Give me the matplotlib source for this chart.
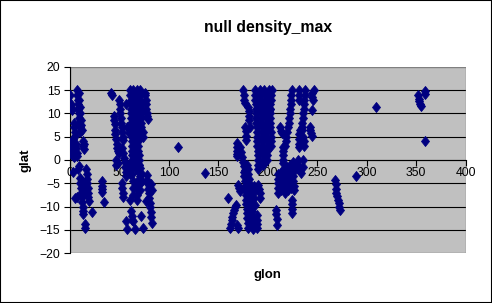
import matplotlib.pyplot as plt
from matplotlib.patches import Rectangle
from matplotlib.path import Path

# glon / glat, grouped by cluster
lon_a = [0, 1, 1.5, 2, 1, 0, 0.5, 1, 1.5, 2, 3, 4, 5, 4.5, 3,
         7, 7.3, 7.6, 8, 8.3, 8.6, 9, 9.3, 9.6, 10,
         9, 9.5, 10, 10.5, 11, 11.5, 12, 4, 4.3, 4.6, 5, 3.5,
         6, 6.5, 7, 7.5, 13, 13.5, 14, 14.5, 9.5, 8.4, 7,
         10, 10.5, 11, 11.5, 12, 12.3, 12.7, 13, 13.5, 12.5, 13, 13.5,
         16.5, 17, 17.3, 17.6, 18, 18.3, 18.5, 19, 15.5, 16,
         15, 15.5, 22, 5]
lat_a = [14, 12, 11.2, 10.8, 11.5, 3.5, 2.8, 2.2, 1.6, 1, 3, 2, 1, 0.7, -2.5,
         15, 14, 13, 12, 11, 10, 9, 8, 7, 6,
         14.5, 13, 11.5, 10, 8.5, 7.5, 6.5, 8, 7, 6, 5.2, 4.5,
         3.5, 2.5, 1.5, 0.8, 4, 3, 2.3, 3.5, -1.3, -2, -8,
         -3.8, -5, -6, -7, -8, -9, -10, -11, -11.7, -4.5, -6, -7.5,
         -2, -3, -4, -5, -6, -7, -8, -8.8, -5, -6.5,
         -13.8, -14.6, -11.2, -8.1]

lon_b = [32, 32.3, 32.6, 32.8, 34]
lat_b = [-4.6, -5.5, -6.3, -6.9, -9]

lon_c = [41.5, 42, 44, 44.5, 45,
         45, 45.5, 46, 47, 48, 49, 50, 48.5,
         50, 50.3, 50.6, 51, 51.5, 52, 52.5, 53, 53.5, 54,
         53, 54, 55, 55.5, 56, 56.5, 57, 52.5, 53, 53.5, 54,
         57, 58, 58.6, 59.5, 56.6, 58,
         61, 61, 61.2, 61.3, 61.5, 61.6, 61.8, 62, 62, 62.2, 62.4, 62.5, 62.7, 62.8, 63, 63, 63.2,
         64, 64, 64.2, 64.3, 64.5, 64.6, 64.8, 65, 65, 65.2, 65.3, 65.5, 65.6, 65.8, 66, 66, 66.2, 66.5,
         67.5, 67.5, 67.6, 67.8, 68, 68, 68.2, 68.3, 68.5, 68.6, 68.8, 69, 69, 69.2, 69.3, 69.5, 69.6,
         71, 71, 71.2, 71.3, 71.4, 71.5, 71.6, 71.7, 71.8, 72, 72,
         75.5, 76, 76.5, 77, 77.3, 77.6, 78, 78.5, 74, 73.5,
         71, 72, 72.5, 60.7, 62, 62.5, 63, 64, 65.7,
         67.4, 67.6, 68, 68, 70.5, 70.8, 71, 72, 73.5,
         77.5, 78, 78.5, 79, 79.5, 80, 80.5, 81, 81.5, 82, 82.5,
         76.5, 82.5, 81.5, 60, 60.3, 60.5, 62.6, 63, 63.3, 63.6, 64,
         69.4, 69.6, 69.8, 46, 46.5]
lat_c = [14.4, 14, 9.4, 8.5, 7.8,
         6.5, 5.5, 4.5, 3.5, 2.5, 2, 1.5, -0.6,
         13, 12, 11, 10, 9, 8, 7, 6, 5, 4.4,
         2.6, 1.5, 0.5, -0.5, -1.5, -2.5, -3.5, -5, -6, -7, -8,
         12, 7.2, 7.2, 5.8, -13.2, -14.8,
         15, 14, 13, 12, 11, 10, 9, 8, 7, 6, 5, 4, 3, 2, 1, 0, -1,
         15, 14, 13, 12, 11, 10, 9, 8, 7, 6, 5, 4, 3, 2, 1, 0, -1, -2,
         15, 14, 13, 12, 11, 10, 9, 8, 7, 6, 5, 4, 3, 2, 1, 0, -1,
         15, 14, 13, 12, 11, 10, 9, 8, 7, 6, 5.2,
         14.5, 14, 13, 12, 11, 10, 9.4, 8.8, 5, 6,
         -1.7, -2.8, -4.6, -8.5, -11, -12, -12.8, -13.2, -14.8,
         -5.3, -6.3, -7.5, -8.5, -3.5, -5, -6.5, -12, -14.6,
         -3.2, -4.2, -5.2, -6.2, -7.2, -8.2, -9.2, -10.2, -11.2, -12.2, -13.5,
         -8.9, -6.4, -5.2, -1, -2, -3, -1.5, -3, -4.5, -6, -7.5,
         -1, -2.5, -4, 0, -1]

lon_iso = [109.5, 136.5, 289, 309]
lat_iso = [2.9, -2.9, -3.5, 11.5]

lon_d = [160, 161.8, 162.5, 163.3, 164, 165, 166, 167, 168, 168.5, 169.5,
         170, 171, 172, 168.5, 168.5, 168.8, 169, 169.2,
         172, 173, 174, 175, 176, 177, 175, 175.5, 176, 176.5,
         177, 177.5, 178, 178, 180, 180.5, 181, 181.3, 182,
         175.5, 176, 176.5, 177, 177.3, 177.6, 178, 178.3, 178.6, 179, 179.3, 179.6, 180,
         179, 179.5, 180, 180.5, 181, 181.5, 182, 182.5, 183, 183.3, 183.6, 184, 184.3, 184.6, 185,
         188.7, 188.7, 188.7, 188.7, 190, 191, 192, 192,
         185.5, 186, 186.5, 187,
         187, 187.2, 187.4, 187.6, 187.8, 188, 188.2, 188.4, 188.6, 188.8, 189, 189.2, 189.4, 189.6, 189.8, 190, 190.2, 190.4,
         192, 192.2, 192.4, 192.6, 192.8, 193, 193.2, 193.4, 193.6, 193.8, 194, 194.2, 194.4, 194.6, 194.8, 195, 195.2,
         196.5, 196.7, 196.9, 197.1, 197.3, 197.5, 197.7, 197.9, 198.1, 198.3, 198.5, 198.7, 198.9, 199, 199.2, 199.4,
         201, 201.2, 201.4, 201.6, 201.8, 202, 202.2, 202.4, 202.6, 202.8, 203, 203, 203.2,
         204, 203.6, 203, 202.5, 202, 201.5, 199]
lat_d = [-8.2, -14.6, -13.8, -13, -12.3, -11.5, -10.8, -10.2, -9.6, -13.9, -14.6,
         -5.3, -6, -6.7, 3.7, 2.8, 1.9, 1.2, 0.8,
         2.9, 1.8, 0.7, -0.4, -1.2, -2.1, 15, 14, 13, 12.3,
         7.2, 6.2, 5.2, 4.4, 11.5, 10.5, 9.5, 8.5, 7.2,
         -2.5, -3.5, -4.5, -5.5, -6.5, -7.5, -8.5, -9.5, -10.5, -11.5, -12.5, -13.5, -14.6,
         -1, -2, -3, -4, -5, -6, -7, -8, -9, -10, -11, -12, -13, -14, -14.8,
         -11.8, -12.8, -13.8, -14.6, -5.3, -6.3, -7.2, -8.2,
         -5.5, -6.8, -8.2, -9.6,
         15, 14, 13, 12, 11, 10, 9, 8, 7, 6, 5, 4, 3, 2, 1, 0, -1, -2,
         15, 14, 13, 12, 11, 10, 9, 8, 7, 6, 5, 4, 3, 2, 1, 0, -1,
         15, 14, 13, 12, 11, 10, 9, 8, 7, 6, 5, 4, 3, 2, 1, 0,
         15, 14, 13, 12, 11, 10, 9, 8, 7, 6, 5, 4, 3,
         15, 14, 13, 12, 11, 10.5, 7.1]

lon_e = [208.5, 208.7, 208.8, 209, 212, 213, 214,
         210, 210, 210.2, 210.4, 210.6,
         213, 213.2, 213.4, 213.6, 213.8,
         216, 216.2, 216.4, 216.6, 216.8, 217,
         219, 219.2, 219.4, 219.6, 219.8, 220,
         222, 222.2, 222.4, 222.6, 222.8, 223,
         225, 225.2, 225.4, 225.6, 225.8, 226, 226.2,
         224, 223.7, 223.4, 223, 222.7, 222.3, 221.8, 221, 220.3, 219.6, 218.8, 218, 217.4,
         215.7, 215.5, 215.3, 215, 215, 224.1, 224.1, 224.1, 224.1,
         237.6, 237.3, 237, 236.6, 236.2, 235.8, 235.4, 235, 234.6, 234.3,
         232.5, 232, 231.5, 231, 231, 230, 230, 230.3, 236, 236, 234,
         244.4, 245, 246, 244.4, 242.6, 243, 243.5, 244.4, 236, 236.5, 237, 246.5,
         232, 232, 231.8]
lat_e = [-10.7, -11.7, -12.7, -13.9, 7.2, 6.2, 5.8,
         -3, -4, -5, -6, -7,
         -2.5, -3.5, -4.5, -5.5, -6.5,
         -2, -3, -4, -5, -6, -7,
         -1.5, -2.5, -3.5, -4.5, -5.5, -6.5,
         -1, -2, -3, -4, -5, -6,
         -0.5, -1.5, -2.5, -3.5, -4.5, -5.5, -6.5,
         15, 14, 13, 12, 11, 10, 9, 8, 7, 6, 5, 4, 3,
         2.9, 2, 1, 0, -0.6, -8.5, -9.5, -10.5, -11.4,
         15, 14, 13, 12, 11, 10, 9, 8, 7, 6.5,
         6.5, 5.5, 4.5, 3.5, 2.9, 0, -1, -2, 0, -1.4, -2.7,
         14.4, 13.5, 13, 10.8, 7.2, 6.5, 5.8, 5.1, 5, 4, 3, 15,
         15, 14, 13]

lon_f = [268, 268.5, 269, 269.3, 269.6, 271, 271.7, 272.3, 273]
lat_f = [-4.2, -5.2, -6.2, -7, -7.8, -8.5, -9.2, -10, -10.7]

lon_g = [352, 352.5, 353, 353.8, 354.5, 359, 359, 359]
lat_g = [14, 13.2, 12.6, 12, 11.6, 14.8, 14.2, 4]

glon = lon_a + lon_b + lon_c + lon_iso + lon_d + lon_e + lon_f + lon_g
glat = lat_a + lat_b + lat_c + lat_iso + lat_d + lat_e + lat_f + lat_g

plt.rcParams['font.family'] = ['Liberation Sans', 'DejaVu Sans']

fig = plt.figure(figsize=(4.92, 3.03), dpi=100)
fig.patch.set_facecolor('white')
fig.add_artist(Rectangle((0, 0), 1, 1, transform=fig.transFigure, fill=False,
                         edgecolor='black', linewidth=1.5))

ax = fig.add_axes([0.1423, 0.165, 0.8042, 0.6139])
ax.set_facecolor('#c0c0c0')

diamond = Path([(0, 1), (0.8, 0), (0, -1), (-0.8, 0), (0, 1)],
               [Path.MOVETO, Path.LINETO, Path.LINETO, Path.LINETO, Path.CLOSEPOLY])
ax.plot(glon, glat, linestyle='none', marker=diamond, markersize=7.2,
        color='#000080', markeredgewidth=0.6, zorder=3)

ax.set_xlim(0, 400)
ax.set_ylim(-20, 20)
ax.set_xticks(range(0, 401, 50))
ax.set_yticks(range(-20, 21, 5))

ax.grid(axis='y', color='black', linewidth=0.8, zorder=1)
ax.set_axisbelow(True)
for gl in (ax.get_ygridlines()[0], ax.get_ygridlines()[-1]):
    gl.set_visible(False)

ax.spines['top'].set_visible(False)
ax.spines['right'].set_visible(False)
ax.add_patch(Rectangle((0, 0), 1, 1, transform=ax.transAxes, fill=False,
                       edgecolor='#808080', linewidth=1, zorder=2))
ax.spines['bottom'].set_position(('data', 0))
ax.spines['bottom'].set_linewidth(0.8)
ax.spines['left'].set_linewidth(0.8)
ax.spines['bottom'].set_zorder(2)

ax.tick_params(axis='both', direction='out', length=4, width=0.8,
               labelsize=8.8, pad=1, colors='black')
ax.tick_params(axis='y', pad=3)

ax.set_title('null density_max', fontsize=11.3, fontweight='bold', pad=25)
ax.set_xlabel('glon', fontsize=9.5, fontweight='bold')
ax.set_ylabel('glat', fontsize=9.5, fontweight='bold', labelpad=6)
ax.xaxis.set_label_coords(0.5, -0.085)

fig.savefig('out.png', dpi=100)
